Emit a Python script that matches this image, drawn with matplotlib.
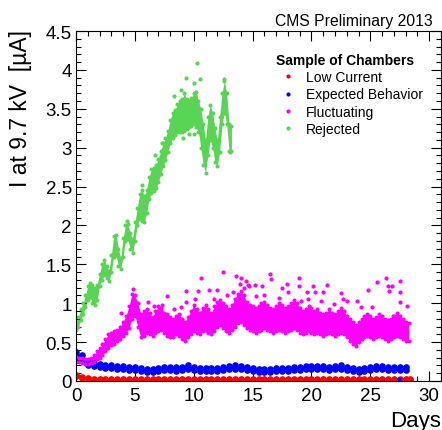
import matplotlib
matplotlib.use('Agg')
import matplotlib.pyplot as plt
from matplotlib.ticker import MultipleLocator, FormatStrFormatter
from matplotlib.lines import Line2D

plt.rcParams['font.family'] = ['Liberation Sans', 'DejaVu Sans']

# Chamber currents (uA) vs days, read as lower/upper edge of each band
# plus isolated readings sitting away from the band.

# --- Rejected (green), every 0.2 day
rej_day = [0.0, 0.2, 0.4, 0.6, 0.8, 1.0, 1.2, 1.4, 1.6, 1.8,
           2.0, 2.2, 2.4, 2.6, 2.8, 3.0, 3.2, 3.4, 3.6, 3.8,
           4.0, 4.2, 4.4, 4.6, 4.8, 5.0, 5.2, 5.4, 5.6, 5.8,
           6.0, 6.2, 6.4, 6.6, 6.8, 7.0, 7.2, 7.4, 7.6, 7.8,
           8.0, 8.2, 8.4, 8.6, 8.8, 9.0, 9.2, 9.4, 9.6, 9.8,
           10.0, 10.2, 10.4, 10.6, 10.8, 11.0, 11.2, 11.4, 11.6, 11.8,
           12.0, 12.2, 12.4, 12.6, 12.8, 13.0, 13.2]
rej_lo = [0.66, 0.70, 0.78, 0.86, 0.95, 1.04, 1.08, 1.00, 0.98, 1.04,
          1.22, 1.30, 1.36, 1.32, 1.28, 1.40, 1.60, 1.62, 1.48, 1.44,
          1.60, 1.80, 1.82, 1.70, 1.64, 1.80, 2.00, 2.08, 2.06, 2.04,
          2.16, 2.34, 2.42, 2.44, 2.48, 2.56, 2.66, 2.76, 2.84, 2.94,
          3.06, 3.12, 3.16, 3.20, 3.20, 3.20, 3.22, 3.24, 3.26, 3.28,
          3.30, 3.26, 3.20, 3.00, 2.78, 2.68, 2.90, 3.10, 3.00, 2.82,
          2.76, 2.95, 3.30, 3.45, 3.30, 2.96, 2.96]
rej_hi = [0.76, 0.82, 0.92, 1.00, 1.10, 1.22, 1.26, 1.24, 1.20, 1.24,
          1.38, 1.50, 1.56, 1.48, 1.42, 1.62, 1.86, 1.88, 1.70, 1.58,
          1.84, 2.00, 2.02, 1.90, 1.82, 2.04, 2.22, 2.40, 2.46, 2.38,
          2.46, 2.62, 2.72, 2.74, 2.78, 2.86, 2.96, 3.06, 3.12, 3.22,
          3.36, 3.44, 3.48, 3.56, 3.60, 3.62, 3.70, 3.62, 3.60, 3.64,
          3.70, 3.72, 3.60, 3.50, 3.30, 3.10, 3.40, 3.55, 3.45, 3.25,
          3.10, 3.40, 3.70, 3.86, 3.70, 3.30, 3.28]
rej_out_day = [9.3, 10.3, 10.5, 9.6, 10.0, 9.1, 12.6, 8.3, 8.9, 10.0,
               13.1, 6.7, 7.3, 4.3, 5.6]
rej_out_val = [3.90, 4.09, 3.88, 3.17, 3.17, 3.13, 3.88, 3.67, 3.74, 3.83,
               2.94, 2.91, 3.06, 2.06, 2.52]

# --- Fluctuating (magenta), every 0.25 day
fluc_day = [0.0, 0.25, 0.5, 0.75, 1.0, 1.25, 1.5, 1.75,
            2.0, 2.25, 2.5, 2.75, 3.0, 3.25, 3.5, 3.75,
            4.0, 4.25, 4.5, 4.75, 5.0, 5.25, 5.5, 5.75,
            6.0, 6.25, 6.5, 6.75, 7.0, 7.25, 7.5, 7.75,
            8.0, 8.25, 8.5, 8.75, 9.0, 9.25, 9.5, 9.75,
            10.0, 10.25, 10.5, 10.75, 11.0, 11.25, 11.5, 11.75,
            12.0, 12.25, 12.5, 12.75, 13.0, 13.25, 13.5, 13.75,
            14.0, 14.25, 14.5, 14.75, 15.0, 15.25, 15.5, 15.75,
            16.0, 16.25, 16.5, 16.75, 17.0, 17.25, 17.5, 17.75,
            18.0, 18.25, 18.5, 18.75, 19.0, 19.25, 19.5, 19.75,
            20.0, 20.25, 20.5, 20.75, 21.0, 21.25, 21.5, 21.75,
            22.0, 22.25, 22.5, 22.75, 23.0, 23.25, 23.5, 23.75,
            24.0, 24.25, 24.5, 24.75, 25.0, 25.25, 25.5, 25.75,
            26.0, 26.25, 26.5, 26.75, 27.0, 27.25, 27.5, 27.75,
            28.0, 28.25]
fluc_lo = [0.25, 0.24, 0.23, 0.22, 0.22, 0.23, 0.25, 0.28,
           0.30, 0.33, 0.38, 0.42, 0.46, 0.48, 0.52, 0.54,
           0.58, 0.62, 0.68, 0.80, 0.84, 0.70, 0.56, 0.58,
           0.62, 0.60, 0.58, 0.62, 0.64, 0.66, 0.62, 0.58,
           0.56, 0.56, 0.60, 0.58, 0.54, 0.52, 0.56, 0.60,
           0.64, 0.62, 0.60, 0.64, 0.66, 0.62, 0.60, 0.64,
           0.70, 0.72, 0.68, 0.64, 0.62, 0.66, 0.70, 0.74,
           0.76, 0.72, 0.68, 0.66, 0.64, 0.62, 0.64, 0.66,
           0.68, 0.66, 0.64, 0.62, 0.64, 0.66, 0.64, 0.62,
           0.64, 0.66, 0.68, 0.66, 0.62, 0.60, 0.62, 0.64,
           0.62, 0.60, 0.62, 0.60, 0.58, 0.60, 0.62, 0.60,
           0.58, 0.60, 0.62, 0.60, 0.56, 0.52, 0.48, 0.45,
           0.50, 0.54, 0.56, 0.58, 0.56, 0.54, 0.56, 0.58,
           0.56, 0.54, 0.52, 0.54, 0.56, 0.58, 0.56, 0.54,
           0.52, 0.52]
fluc_hi = [0.31, 0.30, 0.29, 0.28, 0.28, 0.30, 0.33, 0.38,
           0.42, 0.47, 0.54, 0.60, 0.62, 0.64, 0.66, 0.70,
           0.76, 0.84, 0.96, 1.12, 1.10, 1.00, 0.86, 0.90,
           0.92, 0.88, 0.82, 0.90, 0.96, 0.94, 0.88, 0.86,
           0.82, 0.80, 0.84, 0.86, 0.80, 0.76, 0.82, 0.90,
           0.98, 0.92, 0.88, 0.94, 0.98, 0.92, 0.88, 0.96,
           1.02, 1.04, 1.00, 0.96, 0.92, 0.98, 1.06, 1.12,
           1.16, 1.10, 1.02, 0.98, 0.96, 0.94, 0.96, 1.00,
           1.02, 0.98, 0.94, 0.92, 0.96, 1.00, 0.98, 0.94,
           0.96, 1.00, 1.04, 1.00, 0.94, 0.90, 0.92, 0.96,
           0.94, 0.90, 0.92, 0.88, 0.86, 0.88, 0.92, 0.88,
           0.86, 0.90, 0.94, 0.90, 0.84, 0.80, 0.76, 0.72,
           0.76, 0.80, 0.84, 0.86, 0.84, 0.80, 0.82, 0.86,
           0.84, 0.80, 0.78, 0.80, 0.84, 0.88, 0.84, 0.80,
           0.76, 0.74]
fluc_out_day = [3.8, 4.8, 6.1, 7.3, 7.7, 8.3, 9.3, 9.35, 10.4, 10.6,
                11.3, 12.0, 12.5, 13.6, 13.9, 14.0, 14.4, 14.6, 14.7, 15.2,
                15.3, 15.8, 16.5, 16.6, 17.2, 17.5, 18.0, 18.9, 18.9, 19.1,
                19.6, 19.7, 20.1, 20.3, 20.8, 21.0, 21.3, 21.9, 22.5, 22.7,
                23.0, 23.9, 24.2, 24.8, 25.1, 25.6, 26.3, 26.5, 26.6, 26.8,
                26.9, 27.5, 27.5, 27.5, 28.1, 13.3, 14.3, 16.0, 17.9, 12.8,
                11.7, 10.1, 6.6, 8.9]
fluc_out_val = [0.87, 1.18, 1.02, 0.98, 1.09, 0.92, 1.16, 1.01, 1.16, 1.33,
                1.17, 1.17, 1.40, 1.35, 1.25, 1.32, 1.29, 1.24, 1.22, 1.24,
                1.09, 1.22, 1.37, 1.31, 1.07, 1.19, 1.14, 1.33, 1.22, 1.03,
                1.14, 1.05, 1.22, 1.14, 1.03, 1.14, 1.23, 0.99, 1.13, 1.05,
                1.03, 1.03, 0.95, 1.17, 0.95, 1.27, 1.32, 1.22, 1.16, 1.22,
                0.84, 1.29, 1.14, 1.01, 0.97, 1.15, 1.20, 1.10, 1.25, 1.10,
                1.05, 1.05, 0.97, 0.95]

# --- Expected behavior (blue), every 0.5 day
exp_day = [0.0, 0.5, 1.0, 1.5, 2.0, 2.5, 3.0, 3.5, 4.0, 4.5,
           5.0, 5.5, 6.0, 6.5, 7.0, 7.5, 8.0, 8.5, 9.0, 9.5,
           10.0, 10.5, 11.0, 11.5, 12.0, 12.5, 13.0, 13.5, 14.0, 14.5,
           15.0, 15.5, 16.0, 16.5, 17.0, 17.5, 18.0, 18.5, 19.0, 19.5,
           20.0, 20.5, 21.0, 21.5, 22.0, 22.5, 23.0, 23.5, 24.0, 24.5,
           25.0, 25.5, 26.0, 26.5, 27.0, 27.5, 28.0]
exp_lo = [0.30, 0.27, 0.21, 0.195, 0.185, 0.17, 0.165, 0.155, 0.155, 0.14,
          0.14, 0.13, 0.115, 0.12, 0.13, 0.14, 0.14, 0.135, 0.14, 0.16,
          0.14, 0.13, 0.13, 0.13, 0.13, 0.14, 0.15, 0.16, 0.15, 0.14,
          0.13, 0.12, 0.12, 0.12, 0.13, 0.13, 0.13, 0.14, 0.14, 0.15,
          0.15, 0.15, 0.15, 0.14, 0.15, 0.16, 0.14, 0.13, 0.12, 0.13,
          0.145, 0.15, 0.15, 0.14, 0.14, 0.14, 0.14]
exp_hi = [0.37, 0.33, 0.25, 0.235, 0.225, 0.21, 0.205, 0.195, 0.195, 0.18,
          0.18, 0.17, 0.155, 0.16, 0.17, 0.18, 0.18, 0.175, 0.18, 0.20,
          0.18, 0.17, 0.17, 0.17, 0.17, 0.18, 0.19, 0.20, 0.19, 0.18,
          0.17, 0.16, 0.16, 0.16, 0.17, 0.17, 0.17, 0.18, 0.18, 0.19,
          0.19, 0.19, 0.19, 0.18, 0.19, 0.20, 0.18, 0.17, 0.16, 0.17,
          0.185, 0.19, 0.19, 0.18, 0.18, 0.18, 0.18]
exp_out_day = [27.4]
exp_out_val = [0.02]

# --- Low current (red), every 0.5 day
low_day = [0.0, 0.5, 1.0, 1.5, 2.0, 2.5, 3.0, 3.5, 4.0, 4.5,
           5.0, 5.5, 6.0, 6.5, 7.0, 7.5, 8.0, 8.5, 9.0, 9.5,
           10.0, 10.5, 11.0, 11.5, 12.0, 12.5, 13.0, 13.5, 14.0, 14.5,
           15.0, 15.5, 16.0, 16.5, 17.0, 17.5, 18.0, 18.5, 19.0, 19.5,
           20.0, 20.5, 21.0, 21.5, 22.0, 22.5, 23.0, 23.5, 24.0, 24.5,
           25.0, 25.5, 26.0, 26.5, 27.0, 27.5, 28.0, 28.4]
low_lo = [0.06, 0.035, 0.02, 0.015, 0.012, 0.01, 0.01, 0.01, 0.01, 0.01,
          0.01, 0.01, 0.01, 0.01, 0.01, 0.01, 0.01, 0.01, 0.01, 0.01,
          0.01, 0.01, 0.01, 0.01, 0.01, 0.01, 0.01, 0.01, 0.01, 0.01,
          0.01, 0.01, 0.01, 0.01, 0.01, 0.01, 0.01, 0.01, 0.01, 0.01,
          0.01, 0.01, 0.01, 0.01, 0.01, 0.01, 0.01, 0.01, 0.01, 0.01,
          0.01, 0.01, 0.01, 0.01, 0.01, 0.01, 0.01, 0.01]
low_hi = [0.08, 0.05, 0.035, 0.03, 0.025, 0.025, 0.02, 0.02, 0.02, 0.02,
          0.02, 0.02, 0.02, 0.02, 0.02, 0.02, 0.02, 0.02, 0.02, 0.02,
          0.02, 0.02, 0.02, 0.02, 0.02, 0.02, 0.02, 0.02, 0.02, 0.02,
          0.02, 0.02, 0.02, 0.02, 0.02, 0.02, 0.02, 0.02, 0.02, 0.02,
          0.02, 0.02, 0.02, 0.02, 0.02, 0.02, 0.02, 0.02, 0.02, 0.02,
          0.02, 0.02, 0.02, 0.02, 0.02, 0.02, 0.02, 0.02]

labels = ['Low Current', 'Expected Behavior', 'Fluctuating', 'Rejected']
colors = ['#ff0000', '#0000ff', '#ff00ff', '#59d454']

# (days, lower edge, upper edge, stray days, stray values, dot size)
series = [
    (low_day, low_lo, low_hi, [], [], 4.8),
    (exp_day, exp_lo, exp_hi, exp_out_day, exp_out_val, 4.8),
    (fluc_day, fluc_lo, fluc_hi, fluc_out_day, fluc_out_val, 2.9),
    (rej_day, rej_lo, rej_hi, rej_out_day, rej_out_val, 2.9),
]

fig = plt.figure(figsize=(4.42, 4.31), dpi=100)
ax = fig.add_axes([76 / 442, 49 / 431, 365 / 442, 350 / 431])

for (d, lo, hi, od, ov, ms), c in zip(series, colors):
    ax.fill_between(d, lo, hi, color=c, lw=0)
    ax.plot(d, lo, 'o', ms=ms, color=c, mec='none')
    ax.plot(d, hi, 'o', ms=ms, color=c, mec='none')
    if od:
        ax.plot(od, ov, 'o', ms=3, color=c, mec='none')

ax.set_xlim(0, 31)
ax.set_ylim(0, 4.5)
ax.xaxis.set_major_locator(MultipleLocator(5))
ax.xaxis.set_minor_locator(MultipleLocator(1))
ax.yaxis.set_major_locator(MultipleLocator(0.5))
ax.yaxis.set_minor_locator(MultipleLocator(0.1))
ax.yaxis.set_major_formatter(FormatStrFormatter('%g'))
ax.tick_params(which='both', direction='in', top=True, right=True, width=0.8)
ax.tick_params(which='major', length=7.2)
ax.tick_params(which='minor', length=3.6)
ax.tick_params(axis='x', pad=4, labelsize=13.5)
ax.tick_params(axis='y', pad=3, labelsize=13.5)
for s in ax.spines.values():
    s.set_linewidth(0.8)

fig.text(21 / 442, 1 - 30 / 431, 'I at 9.7 kV  [\u00b5A]', rotation=90,
         ha='center', va='top', fontsize=16.5)
fig.text(441 / 442, 4 / 431, 'Days', ha='right', va='baseline', fontsize=16)
fig.text(433 / 442, 1 - 26 / 431, 'CMS Preliminary 2013', ha='right',
         va='baseline', fontsize=11.3)

handles = [Line2D([], [], ls='none', marker='o', ms=3, color=c, mec='none')
           for c in colors]
leg = ax.legend(handles, labels, title='Sample of Chambers',
                title_fontproperties={'weight': 'bold', 'size': 10},
                alignment='left', fontsize=10, frameon=False,
                handlelength=1.73, handletextpad=0.43, labelspacing=0.23,
                borderpad=0, borderaxespad=0, loc='upper left',
                bbox_to_anchor=(276 / 442, 1 - 54 / 431),
                bbox_transform=fig.transFigure)

fig.savefig('out.png', dpi=100)
